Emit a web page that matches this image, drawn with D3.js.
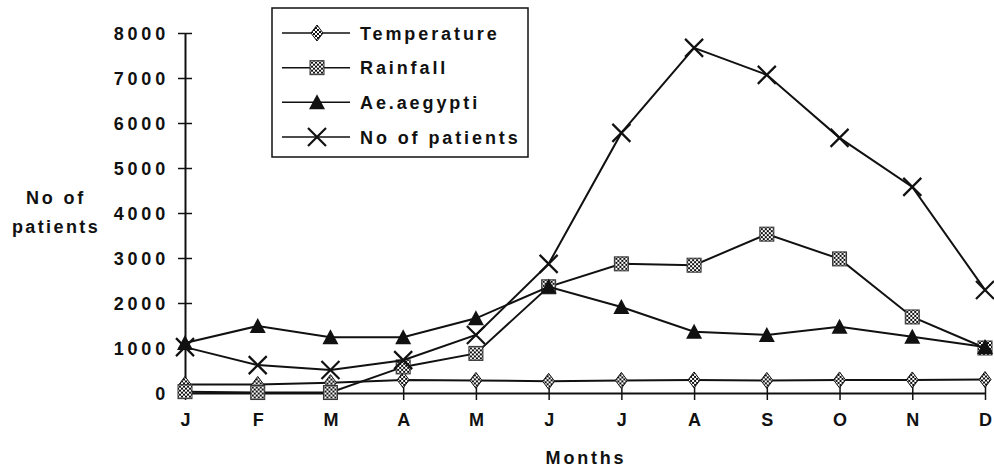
<!DOCTYPE html>
<html>
<head>
<meta charset="utf-8">
<script src="https://cdn.jsdelivr.net/npm/d3@7"></script>
<style>
  body { margin: 0; background: #fff; }
  svg text { font-family: "Liberation Sans", Arial, sans-serif; font-weight: bold; fill: #111; }
</style>
</head>
<body>
<svg id="chart"></svg>
<script>
let width = 994;
let height = 468;

let months = ["J", "F", "M", "A", "M", "J", "J", "A", "S", "O", "N", "D"];
let yTicks = [0, 1000, 2000, 3000, 4000, 5000, 6000, 7000, 8000];

let temperature = [190, 190, 230, 290, 280, 260, 280, 290, 280, 290, 290, 300];
let rainfall = [30, 10, 10, 580, 880, 2360, 2870, 2840, 3530, 2980, 1690, 1000];
let aegypti = [1110, 1490, 1240, 1240, 1660, 2360, 1910, 1360, 1290, 1470, 1250, 1020];
let patients = [1020, 620, 510, 730, 1290, 2870, 5780, 7670, 7070, 5670, 4580, 2290];

let seriesNames = ["Temperature", "Rainfall", "Ae.aegypti", "No of patients"];
let seriesValues = [temperature, rainfall, aegypti, patients];
let seriesMarkers = ["diamond", "square", "triangle", "cross"];

let svg = d3.select("svg#chart").attr("width", width).attr("height", height);

// dithered grey like the scanned print
let defs = svg.append("defs");
let pat = defs.append("pattern")
  .attr("id", "dither")
  .attr("width", 4)
  .attr("height", 4)
  .attr("patternUnits", "userSpaceOnUse");
pat.append("rect").attr("width", 4).attr("height", 4).attr("fill", "#fff");
pat.append("rect").attr("width", 2).attr("height", 2).attr("fill", "#111");
pat.append("rect").attr("x", 2).attr("y", 2).attr("width", 2).attr("height", 2).attr("fill", "#111");

let x = d3.scalePoint()
  .domain(d3.range(months.length))
  .range([185, 985]);

let y = d3.scaleLinear()
  .domain([0, 8000])
  .range([393, 33]);

// axes
let yAxis = d3.axisLeft(y).tickValues(yTicks).tickFormat(d3.format("d")).tickSize(7).tickSizeOuter(0);
let gy = svg.append("g")
  .attr("transform", `translate(${x(0)}, 0)`)
  .call(yAxis);
gy.select(".domain").attr("stroke", "#111").attr("stroke-width", 2);
gy.selectAll(".tick line").attr("x2", 7).attr("x1", -7).attr("stroke", "#111").attr("stroke-width", 1.5);
gy.selectAll(".tick text")
  .attr("x", -16)
  .attr("dy", "0.36em")
  .style("font-size", "18px")
  .style("letter-spacing", "3.8px")
  .attr("fill", "#111");

let xAxis = d3.axisBottom(x).tickFormat((i) => months[i]).tickSize(7).tickSizeOuter(0);
let gx = svg.append("g")
  .attr("transform", `translate(0, ${y(0)})`)
  .call(xAxis);
gx.select(".domain").attr("stroke", "#111").attr("stroke-width", 2);
gx.selectAll(".tick line").attr("y1", -7).attr("y2", 7).attr("stroke", "#111").attr("stroke-width", 1.5);
gx.selectAll(".tick text")
  .attr("y", 20)
  .style("font-size", "18px")
  .attr("fill", "#111");

svg.append("text")
  .attr("x", 56)
  .attr("y", 204)
  .attr("text-anchor", "middle")
  .style("font-size", "18px")
  .style("letter-spacing", "2.8px")
  .text("No of");
svg.append("text")
  .attr("x", 56)
  .attr("y", 233)
  .attr("text-anchor", "middle")
  .style("font-size", "18px")
  .style("letter-spacing", "2.4px")
  .text("patients");

svg.append("text")
  .attr("x", 586)
  .attr("y", 464)
  .attr("text-anchor", "middle")
  .style("font-size", "18px")
  .style("letter-spacing", "2.8px")
  .text("Months");

function drawMarker(g, type) {
  if (type === "diamond") {
    g.append("path")
      .attr("d", "M0,-8L6,0L0,8L-6,0Z")
      .attr("fill", "url(#dither)")
      .attr("stroke", "#111")
      .attr("stroke-width", 1);
  } else if (type === "square") {
    g.append("rect")
      .attr("x", -7).attr("y", -7)
      .attr("width", 14).attr("height", 14)
      .attr("fill", "url(#dither)")
      .attr("stroke", "#333")
      .attr("stroke-width", 1);
  } else if (type === "triangle") {
    g.append("path")
      .attr("d", "M0,-8L8,7L-8,7Z")
      .attr("fill", "#111");
  } else {
    g.append("path")
      .attr("d", "M-9,-9L9,9M-9,9L9,-9")
      .attr("stroke", "#111")
      .attr("stroke-width", 2.2)
      .attr("fill", "none");
  }
}

let line = d3.line()
  .x((d, i) => x(i))
  .y((d) => y(d));

seriesValues.forEach((vals, s) => {
  svg.append("path")
    .datum(vals)
    .attr("d", line)
    .attr("fill", "none")
    .attr("stroke", "#111")
    .attr("stroke-width", 2);

  svg.append("g")
    .selectAll("g")
    .data(vals)
    .join("g")
    .attr("transform", (d, i) => `translate(${x(i)}, ${y(d)})`)
    .each(function () {
      drawMarker(d3.select(this), seriesMarkers[s]);
    });
});

// legend
let legend = svg.append("g");
legend.append("rect")
  .attr("x", 272)
  .attr("y", 8)
  .attr("width", 256)
  .attr("height", 149)
  .attr("fill", "#fff")
  .attr("stroke", "#111")
  .attr("stroke-width", 1.5);

let rowY = d3.scalePoint().domain(d3.range(seriesNames.length)).range([33, 137]);

seriesNames.forEach((name, i) => {
  let ly = rowY(i);
  legend.append("line")
    .attr("x1", 282).attr("x2", 350)
    .attr("y1", ly).attr("y2", ly)
    .attr("stroke", "#111")
    .attr("stroke-width", 1.5);
  let m = legend.append("g").attr("transform", `translate(317, ${ly})`);
  drawMarker(m, seriesMarkers[i]);
  legend.append("text")
    .attr("x", 360)
    .attr("y", ly + 6.5)
    .style("font-size", "18px")
    .style("letter-spacing", "2.9px")
    .text(name);
});
</script>
</body>
</html>
